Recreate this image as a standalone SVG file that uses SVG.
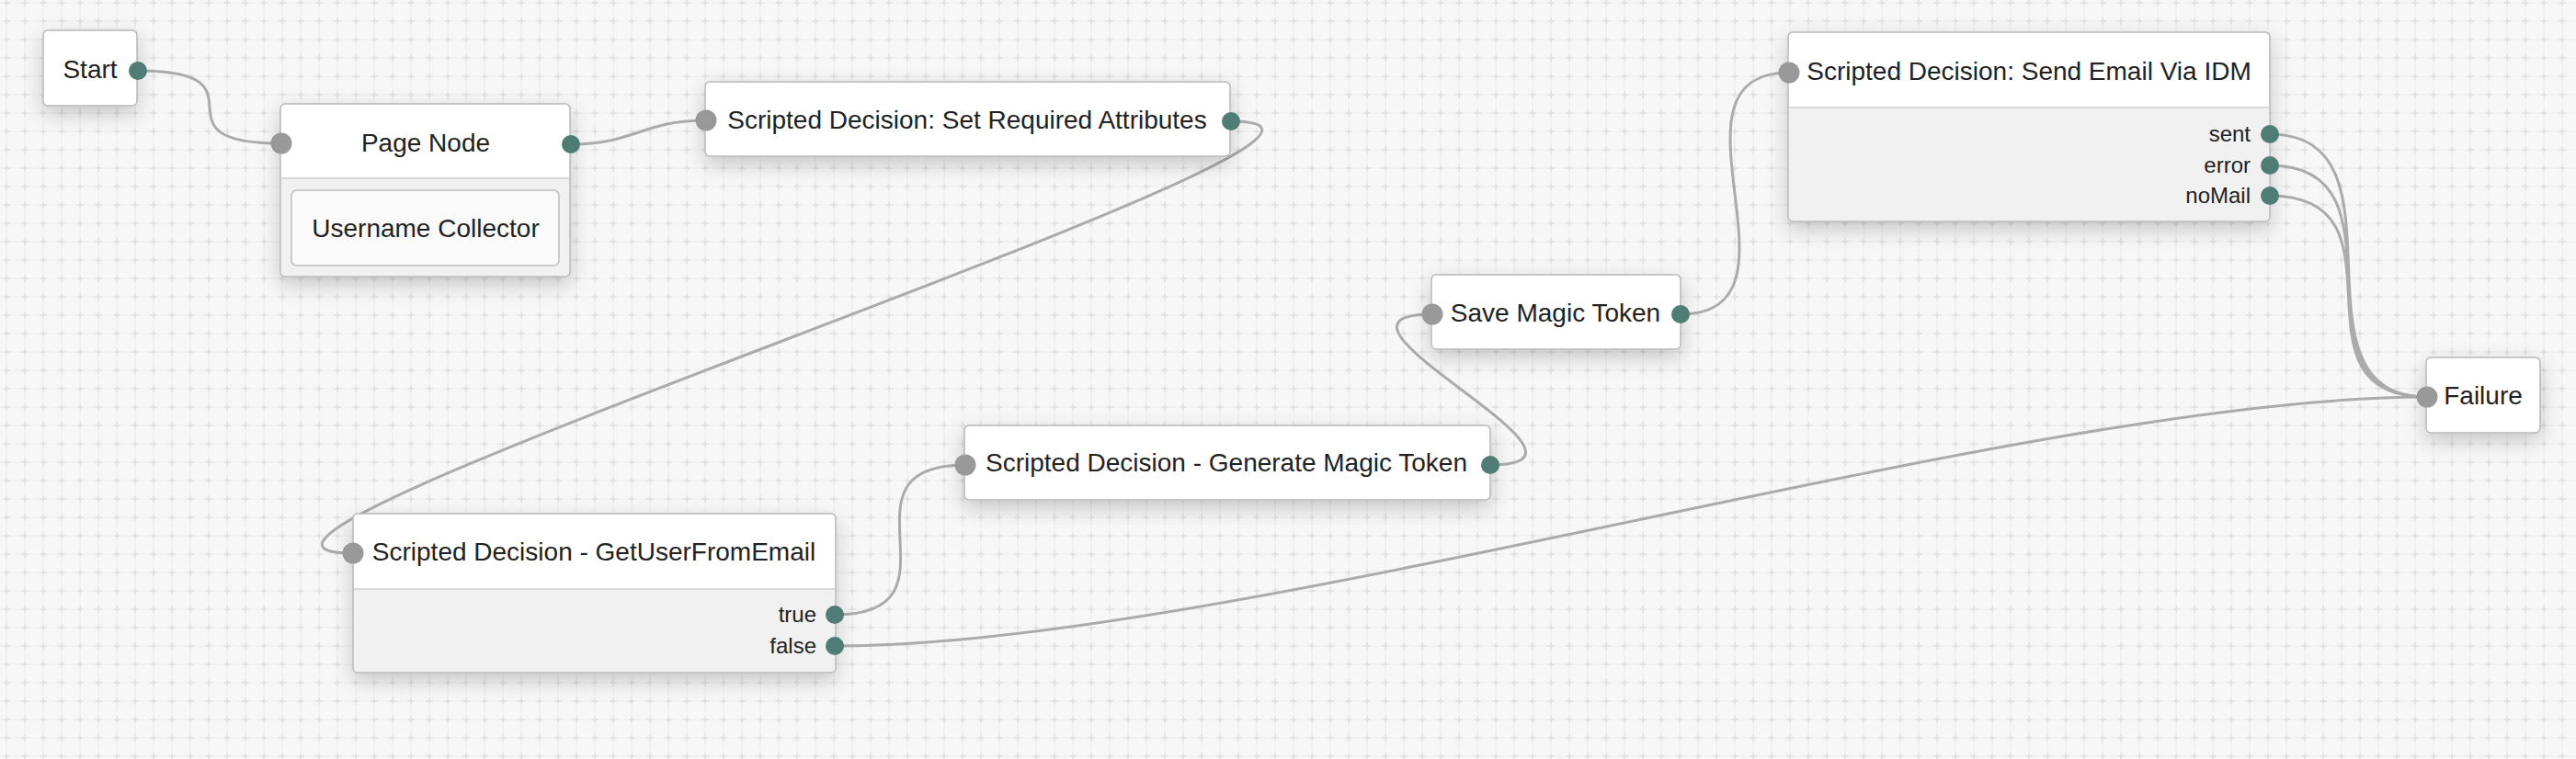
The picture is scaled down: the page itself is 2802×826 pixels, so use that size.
<svg xmlns="http://www.w3.org/2000/svg" width="2802" height="826" viewBox="0 0 2802 826">
  <defs>
    <pattern id="grid" patternUnits="userSpaceOnUse" x="-3" y="-7" width="20" height="20">
      <rect width="20" height="20" fill="#f7f7f7"/>
      <path d="M10,0 V20 M0,10 H20" stroke="#eeeeee" stroke-width="1.2" fill="none"/>
      <path d="M6.5,10 H13.5 M10,6.5 V13.5" stroke="#e0e0e0" stroke-width="1.5" fill="none"/>
    </pattern>
    <filter id="shadow" x="-20%" y="-30%" width="140%" height="170%">
      <feDropShadow dx="0" dy="8" stdDeviation="11" flood-color="#000" flood-opacity="0.2"/>
    </filter>
    <style>
      .box { fill: #ffffff; stroke: #b8b8b8; stroke-width: 1.5; }
      .body { fill: #f1f1f1; }
      .sep { stroke: #d9d9d9; stroke-width: 2; }
      .inner { fill: #fafafa; stroke: #bdbdbd; stroke-width: 1.5; }
      .title { font-family: "Liberation Sans", Arial, sans-serif; font-size: 28px; fill: #222222; text-anchor: middle; }
      .plabel { font-family: "Liberation Sans", Arial, sans-serif; font-size: 24px; fill: #222222; text-anchor: end; }
      .in { fill: #999999; }
      .out { fill: #4f7c75; }
      .conn path { fill: none; stroke: #ababab; stroke-width: 3; }
    </style>
  </defs>
  <rect width="2802" height="826" fill="url(#grid)"/>

  <g id="connectors" class="conn">
    <path d="M150,77 C300,77 156,156 306,156"/>
    <path d="M621,157 C690,157 699,131 768,131"/>
    <path d="M1339,132 C1614,132 109,602 384,602"/>
    <path d="M908,669 C1058,669 900,506 1050,506"/>
    <path d="M1621,506 C1776,506 1403,342 1558,342"/>
    <path d="M1828,342 C1978,342 1796,79 1946,79"/>
    <path d="M2469,146 C2629,146 2480,432 2640,432"/>
    <path d="M2469,180 C2629,180 2480,432 2640,432"/>
    <path d="M2469,213 C2629,213 2480,432 2640,432"/>
    <path d="M908,703 C1346,703 2202,432 2640,432"/>
  </g>

  <g id="node-start">
    <rect class="box" x="47" y="33" width="102" height="82" rx="5" filter="url(#shadow)"/>
    <text class="title" x="98" y="85">Start</text>
    <circle class="out" cx="150" cy="77" r="10"/>
  </g>

  <g id="node-page">
    <g filter="url(#shadow)">
      <rect class="box" x="305" y="113" width="315" height="188" rx="5"/>
    </g>
    <path class="body" d="M306,194 H619 V295 Q619,300 614,300 H311 Q306,300 306,295 Z"/>
    <line class="sep" x1="306" y1="194" x2="619" y2="194"/>
    <text class="title" x="463" y="165">Page Node</text>
    <rect class="inner" x="317" y="207" width="291" height="82" rx="6"/>
    <text class="title" x="463" y="258">Username Collector</text>
    <circle class="in" cx="306" cy="156" r="11.5"/>
    <circle class="out" cx="621" cy="157" r="10"/>
  </g>

  <g id="node-setreq">
    <rect class="box" x="767" y="89" width="571" height="81" rx="5" filter="url(#shadow)"/>
    <text class="title" x="1052" y="140">Scripted Decision: Set Required Attributes</text>
    <circle class="in" cx="768" cy="131" r="11.5"/>
    <circle class="out" cx="1339" cy="132" r="10"/>
  </g>

  <g id="node-getuser">
    <g filter="url(#shadow)">
      <rect class="box" x="384" y="559" width="525" height="173" rx="5"/>
    </g>
    <path class="body" d="M385,641 H908 V726 Q908,731 903,731 H390 Q385,731 385,726 Z"/>
    <line class="sep" x1="385" y1="641" x2="908" y2="641"/>
    <text class="title" x="646" y="610">Scripted Decision - GetUserFromEmail</text>
    <text class="plabel" x="888" y="677">true</text>
    <text class="plabel" x="888" y="711">false</text>
    <circle class="in" cx="384" cy="602" r="11.5"/>
    <circle class="out" cx="908" cy="669" r="10"/>
    <circle class="out" cx="908" cy="703" r="10"/>
  </g>

  <g id="node-generate">
    <rect class="box" x="1049" y="463" width="572" height="81" rx="5" filter="url(#shadow)"/>
    <text class="title" x="1334" y="513">Scripted Decision - Generate Magic Token</text>
    <circle class="in" cx="1050" cy="506" r="11.5"/>
    <circle class="out" cx="1621" cy="506" r="10"/>
  </g>

  <g id="node-save">
    <rect class="box" x="1557" y="299" width="271" height="81" rx="5" filter="url(#shadow)"/>
    <text class="title" x="1692" y="350">Save Magic Token</text>
    <circle class="in" cx="1558" cy="342" r="11.5"/>
    <circle class="out" cx="1828" cy="342" r="10"/>
  </g>

  <g id="node-sendemail">
    <g filter="url(#shadow)">
      <rect class="box" x="1945" y="35" width="524" height="206" rx="5"/>
    </g>
    <path class="body" d="M1946,117 H2468 V235 Q2468,240 2463,240 H1951 Q1946,240 1946,235 Z"/>
    <line class="sep" x1="1946" y1="117" x2="2468" y2="117"/>
    <text class="title" x="2207" y="87">Scripted Decision: Send Email Via IDM</text>
    <text class="plabel" x="2448" y="154">sent</text>
    <text class="plabel" x="2448" y="188">error</text>
    <text class="plabel" x="2448" y="221">noMail</text>
    <circle class="in" cx="1946" cy="79" r="11.5"/>
    <circle class="out" cx="2469" cy="146" r="10"/>
    <circle class="out" cx="2469" cy="180" r="10"/>
    <circle class="out" cx="2469" cy="213" r="10"/>
  </g>

  <g id="node-failure">
    <rect class="box" x="2639" y="389" width="124" height="82" rx="5" filter="url(#shadow)"/>
    <text class="title" x="2701" y="440">Failure</text>
    <circle class="in" cx="2640" cy="432" r="11.5"/>
  </g>
</svg>
